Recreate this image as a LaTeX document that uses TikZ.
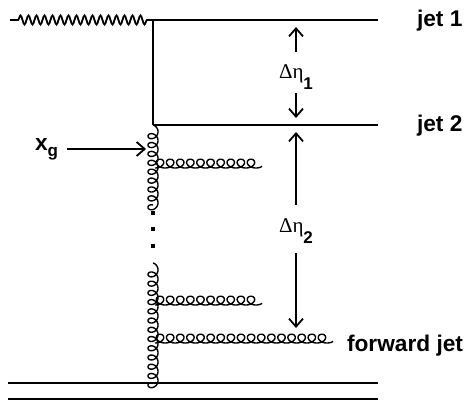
\documentclass[tikz,border=0pt]{standalone}
\usepackage{fontspec}
\setmainfont{Liberation Sans}
\newfontfamily\greekserif{Liberation Serif}
\usetikzlibrary{arrows.meta,decorations.pathmorphing}

\newcommand\hgluon[4]{% x0, y0, x1, n
  \pgfmathsetmacro\gluA{(#3-#1)/(2*pi*#4)}%
  \pgfmathsetmacro\gluE{2*pi*#4+0.9}%
  \draw[gluon, domain=0:\gluE, samples=700, variable=\t]
    plot ({#1 + \gluA*\t + 6*sin(\t r)}, {#2 - 4.4*(1-cos(\t r))});
}
\newcommand\vgluon[4]{% x0, y1, y2, n
  \pgfmathsetmacro\gluA{(#3-#2)/(2*pi*#4)}%
  \pgfmathsetmacro\gluE{2*pi*#4-pi/2}%
  \draw[gluon, domain=-1.5708:\gluE, samples=700, variable=\t]
    plot ({#1 + 5*cos(\t r)}, {#2 + \gluA*(\t + 1.5708) + 4.5*(sin(\t r)+1)});
}

\begin{document}
\begin{tikzpicture}[x=1pt,y=-1pt,
  line width=2pt,
  gluon/.style={line width=1.4pt, line join=round},
  photon/.style={line width=1.8pt, decorate,
    decoration={snake, segment length=8pt, amplitude=4.5pt, pre length=8pt, post length=4pt}},
  arr/.style={line width=2pt, -{Straight Barb[length=8pt,width=14pt,line width=1.8pt]}},
  lbl/.style={inner sep=0pt, font=\fontsize{22.7}{22.7}\selectfont\bfseries},
  eta/.style={inner sep=0pt, font=\fontsize{21}{21}\selectfont},
  dotsq/.style={rectangle, fill=black, minimum size=3.5pt, inner sep=0pt}
]
\useasboundingbox (0,0) rectangle (466,412);

% coordinates
\coordinate (pA) at (10,20);
\coordinate (v1) at (153,20);
\coordinate (v2) at (153,125);
\coordinate (j1e) at (378,20);
\coordinate (j2e) at (378,125);
\coordinate (b1s) at (8,383);
\coordinate (b1e) at (378,383);
\coordinate (b2s) at (8,399);
\coordinate (b2e) at (378,399);

% photon and quark lines
\draw[photon] (pA) -- (v1);
\draw (v1) -- (j1e);
\draw (v1) -- (v2);
\draw (v2) -- (j2e);
\draw (b1s) -- (b1e);
\draw (b2s) -- (b2e);

% gluon ladder
\vgluon{153}{125}{205}{9}
\vgluon{153}{263}{383}{13}
\hgluon{155}{168}{256}{10}
\hgluon{155}{305}{256}{10}
\hgluon{155}{343}{327}{17}

% dots
\node[dotsq] (dt1) at (153,213) {};
\node[dotsq] (dt2) at (153,229) {};
\node[dotsq] (dt3) at (153,246) {};

% x_g
\node[lbl, anchor=base west] (xg) at (34,150) {x\raisebox{-6pt}{\fontsize{17}{17}\selectfont g}};
\coordinate (xga) at (67,149);
\coordinate (xgb) at (146,149);
\draw[arr] (xga) -- (xgb);

% labels
\node[lbl, anchor=base west] (jet1) at (416,27) {jet 1};
\node[lbl, anchor=base west] (jet2) at (416,131) {jet 2};
\node[lbl, anchor=base west] (fwd) at (346,351) {forward jet};

% delta eta 1
\node[eta, anchor=base west] (de1) at (278,78) {{\greekserif Δη}\raisebox{-11pt}{\fontsize{17}{17}\selectfont\bfseries 1}};
\coordinate (a1s) at (296,52);
\coordinate (a1t) at (296,27);
\coordinate (a2s) at (296,93);
\coordinate (a2t) at (296,118);
\draw[arr] (a1s) -- (a1t);
\draw[arr] (a2s) -- (a2t);

% delta eta 2
\node[eta, anchor=base west] (de2) at (278,232) {{\greekserif Δη}\raisebox{-11pt}{\fontsize{17}{17}\selectfont\bfseries 2}};
\coordinate (a3s) at (296,205);
\coordinate (a3t) at (296,132);
\coordinate (a4s) at (296,253);
\coordinate (a4t) at (296,328);
\draw[arr] (a3s) -- (a3t);
\draw[arr] (a4s) -- (a4t);
\end{tikzpicture}
\end{document}
